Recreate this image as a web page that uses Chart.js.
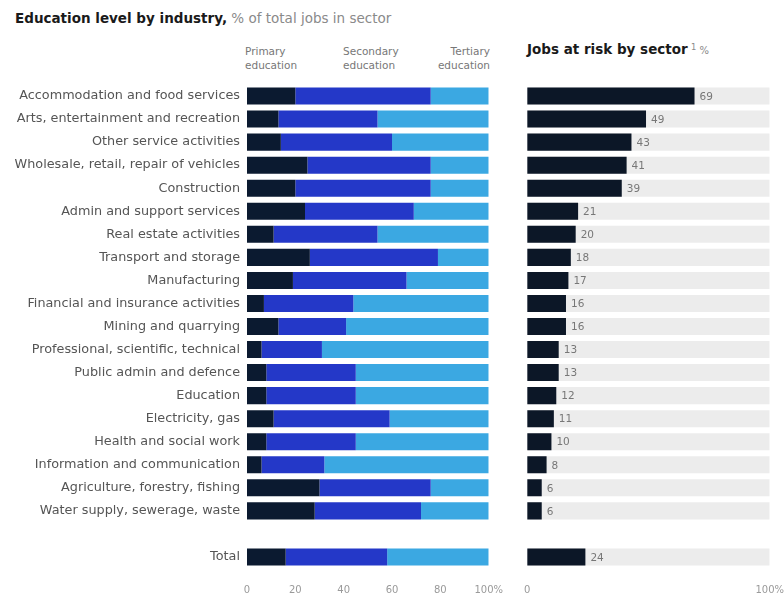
<!DOCTYPE html>
<html>
<head>
<meta charset="utf-8">
<script src="https://cdn.jsdelivr.net/npm/chart.js@4"></script>
<style>
  body { margin: 0; background: #fff; font-family: "DejaVu Sans", sans-serif; }
  #wrap { position: relative; width: 784px; height: 602px; overflow: hidden; }
  .title { position: absolute; left: 15px; top: 10px; font-size: 13.5px; color: #1a1a1a; white-space: nowrap; }
  .title span { color: #8a8a8a; }
  .rtitle { position: absolute; left: 527px; top: 41px; font-size: 13.5px; color: #1a1a1a; white-space: nowrap; }
  .rtitle span { color: #8a8a8a; font-size: 10px; }
  .leg { position: absolute; top: 44px; font-size: 10.5px; line-height: 14px; color: #777; }
  canvas { position: absolute; top: 0; }
</style>
</head>
<body>
<div id="wrap">
  <div class="title"><b>Education level by industry,</b> <span>% of total jobs in sector</span></div>
  <div class="leg" style="left:245px">Primary<br>education</div>
  <div class="leg" style="left:343px">Secondary<br>education</div>
  <div class="leg" style="left:410px;width:80px;text-align:right">Tertiary<br>education</div>
  <div class="rtitle"><b>Jobs at risk by sector</b><span> <sup>1</sup> %</span></div>
  <canvas id="eduChart" width="519" height="602" style="left:0"></canvas>
  <canvas id="riskChart" width="292" height="602" style="left:508px"></canvas>
</div>
<script>
// rows, top to bottom; "" is the spacer row before the total
const industries = [
  "Accommodation and food services",
  "Arts, entertainment and recreation",
  "Other service activities",
  "Wholesale, retail, repair of vehicles",
  "Construction",
  "Admin and support services",
  "Real estate activities",
  "Transport and storage",
  "Manufacturing",
  "Financial and insurance activities",
  "Mining and quarrying",
  "Professional, scientific, technical",
  "Public admin and defence",
  "Education",
  "Electricity, gas",
  "Health and social work",
  "Information and communication",
  "Agriculture, forestry, fishing",
  "Water supply, sewerage, waste",
  "",
  "Total"
];

const primaryEdu   = [20, 13, 14, 25, 20, 24, 11, 26, 19, 7, 13, 6, 8, 8, 11, 8, 6, 30, 28, null, 16];
const secondaryEdu = [56, 41, 46, 51, 56, 45, 43, 53, 47, 37, 28, 25, 37, 37, 48, 37, 26, 46, 44, null, 42];
const tertiaryEdu  = [24, 46, 40, 24, 24, 31, 46, 21, 34, 56, 59, 69, 55, 55, 41, 55, 68, 24, 28, null, 42];

const jobsAtRisk = [69, 49, 43, 41, 39, 21, 20, 18, 17, 16, 16, 13, 13, 12, 11, 10, 8, 6, 6, null, 24];
const riskTrack  = [100, 100, 100, 100, 100, 100, 100, 100, 100, 100, 100, 100, 100, 100, 100, 100, 100, 100, 100, null, 100];

const eduTickLabels = ["0", "20", "40", "60", "80", "100%"];
const riskTickLabels = ["0", "100%"];

const tickFont = { family: "DejaVu Sans", size: 10 };

function xAxis(step, labels) {
  return {
    min: 0, max: 100,
    grid: { display: false, drawTicks: false },
    border: { display: false },
    ticks: {
      stepSize: step,
      padding: 16,
      color: "#9a9a9a",
      font: tickFont,
      maxRotation: 0,
      callback: (v, i) => labels[i]
    },
    afterFit: (s) => { s.height = 33.5; }
  };
}

new Chart(document.getElementById("eduChart"), {
  type: "bar",
  data: {
    labels: industries,
    datasets: [
      { label: "Primary education", data: primaryEdu, backgroundColor: "#0b1a30" },
      { label: "Secondary education", data: secondaryEdu, backgroundColor: "#2438c8" },
      { label: "Tertiary education", data: tertiaryEdu, backgroundColor: "#3ba8e2" }
    ]
  },
  options: {
    indexAxis: "y",
    responsive: false,
    animation: false,
    layout: { padding: { top: 84.5, right: 0, bottom: 0, left: 0 } },
    datasets: { bar: { barPercentage: 0.74, categoryPercentage: 1, borderWidth: 0 } },
    plugins: { legend: { display: false }, tooltip: { enabled: false } },
    scales: {
      x: Object.assign(xAxis(20, eduTickLabels), { stacked: true }),
      y: {
        stacked: true,
        grid: { display: false, drawTicks: false },
        border: { display: false },
        ticks: { color: "#555", font: { family: "DejaVu Sans", size: 12.8 }, padding: 7, autoSkip: false },
        afterFit: (s) => { s.width = 247; }
      }
    }
  }
});

// value next to each dark bar
const valueLabels = {
  id: "valueLabels",
  afterDatasetsDraw(chart) {
    const ctx = chart.ctx;
    const meta = chart.getDatasetMeta(0);
    ctx.save();
    ctx.font = "10.5px 'DejaVu Sans'";
    ctx.fillStyle = "#777";
    ctx.textBaseline = "middle";
    meta.data.forEach((bar, i) => {
      if (jobsAtRisk[i] == null) return;
      ctx.fillText(jobsAtRisk[i], bar.x + 5, bar.y + 1);
    });
    ctx.restore();
  }
};

new Chart(document.getElementById("riskChart"), {
  type: "bar",
  data: {
    labels: industries,
    datasets: [
      { label: "Jobs at risk", data: jobsAtRisk, backgroundColor: "#0c1727", grouped: false, order: 0 },
      { label: "track", data: riskTrack, backgroundColor: "#ececec", grouped: false, order: 1 }
    ]
  },
  options: {
    indexAxis: "y",
    responsive: false,
    animation: false,
    layout: { padding: { top: 84.5, right: 0, bottom: 0, left: 15 } },
    datasets: { bar: { barPercentage: 0.74, categoryPercentage: 1, borderWidth: 0 } },
    plugins: { legend: { display: false }, tooltip: { enabled: false } },
    scales: {
      x: xAxis(100, riskTickLabels),
      y: { display: false }
    }
  },
  plugins: [valueLabels]
});
</script>
</body>
</html>
